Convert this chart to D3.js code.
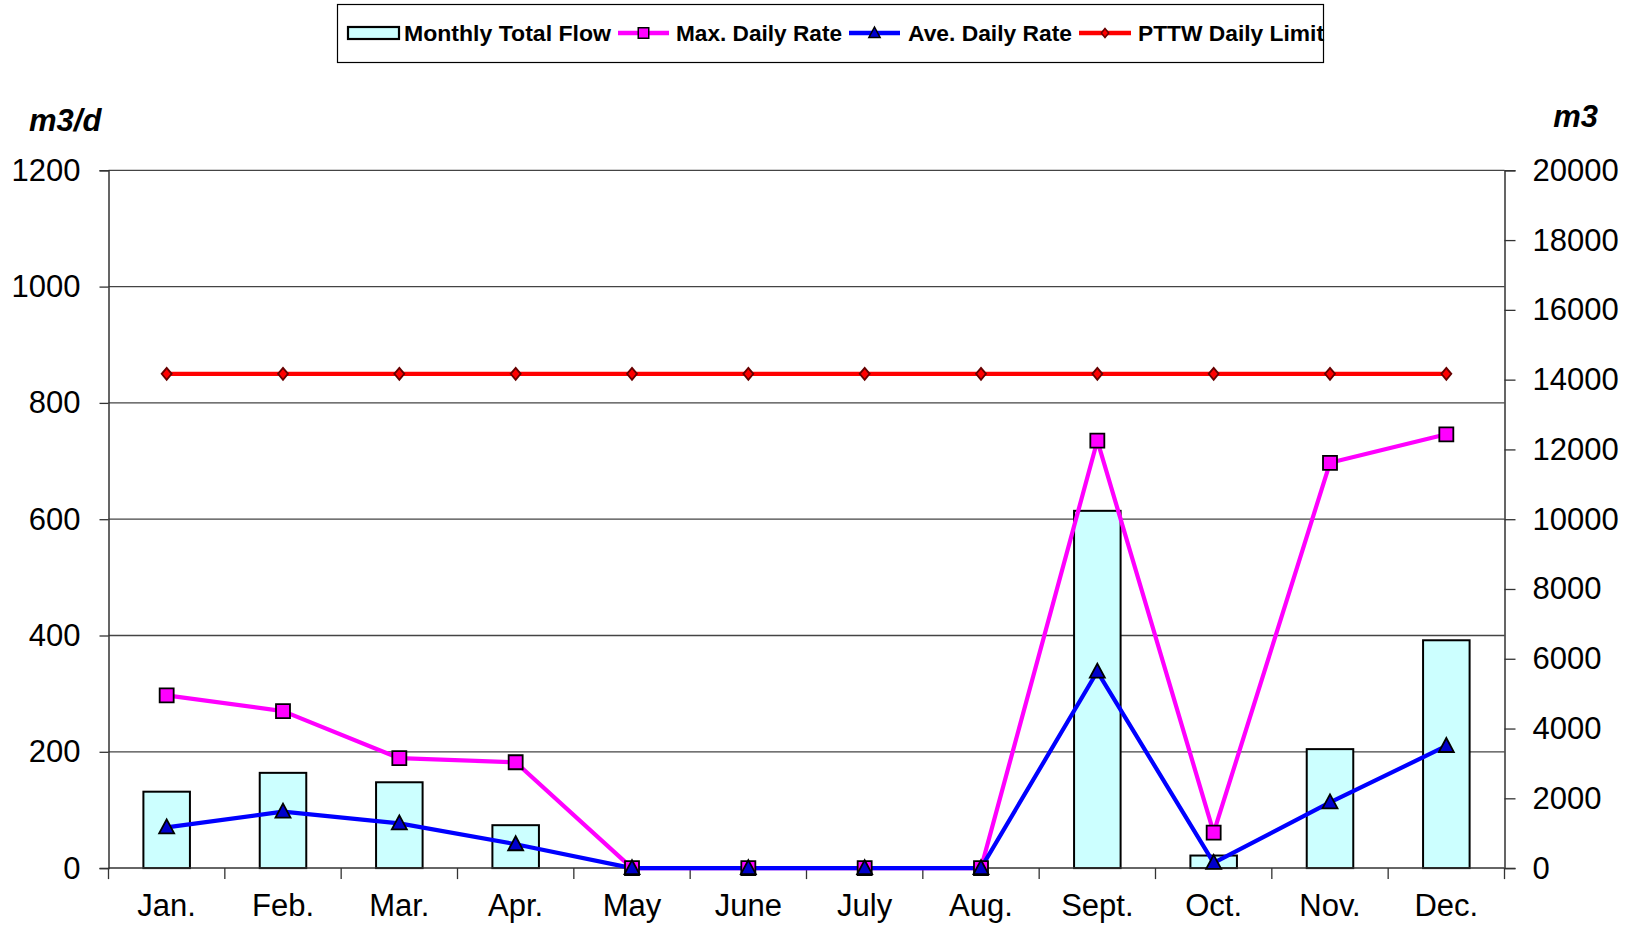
<!DOCTYPE html>
<html>
<head>
<meta charset="utf-8">
<script src="https://cdn.jsdelivr.net/npm/d3@7"></script>
<style>
  body { margin: 0; background: #fff; }
  svg { display: block; font-family: "Liberation Sans", Arial, sans-serif; }
</style>
</head>
<body>
<svg id="chart" width="1638" height="926"></svg>
<script>
"use strict";

const months = ["Jan.", "Feb.", "Mar.", "Apr.", "May", "June", "July", "Aug.", "Sept.", "Oct.", "Nov.", "Dec."];
// monthly total flow, m3 (right axis)
const totalFlow = [2190, 2730, 2460, 1230, 0, 0, 0, 0, 10240, 360, 3410, 6530];
// m3/d (left axis)
const maxDaily = [297, 270, 189, 182, 0, 0, 0, 0, 735, 61, 697, 746];
const aveDaily = [70, 97, 77, 41, 0, 0, 0, 0, 338, 9, 113, 210];
const pttwLimit = [850, 850, 850, 850, 850, 850, 850, 850, 850, 850, 850, 850];
const leftTicks = [0, 200, 400, 600, 800, 1000, 1200];
const rightTicks = [0, 2000, 4000, 6000, 8000, 10000, 12000, 14000, 16000, 18000, 20000];

const margin = { left: 108.5, right: 1638 - 1504.5, top: 170.3, bottom: 926 - 868.1 };
const width = 1638, height = 926;

const svg = d3.select("#chart");

const x = d3.scaleBand()
  .domain(months)
  .range([margin.left, width - margin.right]);

const yL = d3.scaleLinear().domain([0, 1200]).range([height - margin.bottom, margin.top]);
const yR = d3.scaleLinear().domain([0, 20000]).range([height - margin.bottom, margin.top]);

// gridlines
svg.append("g")
  .selectAll("line")
  .data(leftTicks.slice(1))
  .join("line")
  .attr("x1", margin.left)
  .attr("x2", width - margin.right)
  .attr("y1", d => yL(d))
  .attr("y2", d => yL(d))
  .attr("stroke", "#444")
  .attr("stroke-width", 1.3);

// bars
const barW = x.bandwidth() * 0.4;
svg.append("g")
  .selectAll("rect")
  .data(months.map((m, i) => ({ m, v: totalFlow[i] })).filter(d => d.v > 0))
  .join("rect")
  .attr("x", d => x(d.m) + (x.bandwidth() - barW) / 2)
  .attr("width", barW)
  .attr("y", d => yR(d.v))
  .attr("height", d => yR(0) - yR(d.v))
  .attr("fill", "#ccffff")
  .attr("stroke", "#000")
  .attr("stroke-width", 2);

// axes
const axisFont = 31;
const gL = svg.append("g")
  .attr("transform", `translate(${margin.left},0)`)
  .call(d3.axisLeft(yL).tickValues(leftTicks).tickSize(9).tickPadding(19).tickFormat(d3.format("d")));
const gR = svg.append("g")
  .attr("transform", `translate(${width - margin.right},0)`)
  .call(d3.axisRight(yR).tickValues(rightTicks).tickSize(11).tickPadding(17).tickFormat(d3.format("d")));
const gX = svg.append("g")
  .attr("transform", `translate(0,${height - margin.bottom})`)
  .call(d3.axisBottom(x).tickSize(0).tickPadding(26));

[gL, gR, gX].forEach(g => {
  g.select(".domain").attr("stroke", "#333").attr("stroke-width", 1.5);
  g.selectAll(".tick line").attr("stroke", "#333").attr("stroke-width", 1.3);
  g.selectAll("text").attr("font-size", axisFont).attr("fill", "#000")
    .attr("font-family", "Liberation Sans, Arial, sans-serif");
});
gX.select(".domain").attr("d", `M${margin.left},0H${width - margin.right}`);

// month boundary ticks
const bounds = months.map(m => x(m)).concat([width - margin.right]);
gX.append("g")
  .selectAll("line")
  .data(bounds)
  .join("line")
  .attr("x1", d => d).attr("x2", d => d)
  .attr("y1", 0).attr("y2", 11)
  .attr("stroke", "#333").attr("stroke-width", 1.3);

// axis titles
svg.append("text")
  .attr("x", 29).attr("y", 131)
  .attr("font-size", 31).attr("font-weight", "bold").attr("font-style", "italic")
  .text("m3/d");
svg.append("text")
  .attr("x", 1598).attr("y", 127)
  .attr("text-anchor", "end")
  .attr("font-size", 31).attr("font-weight", "bold").attr("font-style", "italic")
  .text("m3");

// lines
const cx = m => x(m) + x.bandwidth() / 2;
const series = [
  { name: "Max. Daily Rate", values: maxDaily, color: "#ff00ff", marker: "square" },
  { name: "Ave. Daily Rate", values: aveDaily, color: "#0000ff", marker: "triangle" },
  { name: "PTTW Daily Limit", values: pttwLimit, color: "#ff0000", marker: "diamond" }
];

const markerFill = { square: "#ff00ff", triangle: "#0000cc", diamond: "#ff0000" };
function markerPath(type) {
  if (type === "square") return "M-7,-7H7V7H-7Z";
  if (type === "triangle") return "M0,-8L7.5,6H-7.5Z";
  return "M0,-6L5,0L0,6L-5,0Z";
}

const line = d3.line().x((d, i) => cx(months[i])).y(d => yL(d));

series.forEach(s => {
  svg.append("path")
    .datum(s.values)
    .attr("d", line)
    .attr("fill", "none")
    .attr("stroke", s.color)
    .attr("stroke-width", 4.2)
    .attr("stroke-linejoin", "round");
});
series.forEach(s => {
  svg.append("g")
    .selectAll("path")
    .data(s.values)
    .join("path")
    .attr("transform", (d, i) => `translate(${cx(months[i])},${yL(d)})`)
    .attr("d", markerPath(s.marker))
    .attr("fill", markerFill[s.marker])
    .attr("stroke", s.marker === "diamond" ? "#600" : "#000")
    .attr("stroke-width", 1.8);
});

// legend
const legend = svg.append("g");
legend.append("rect")
  .attr("x", 337.5).attr("y", 4.5).attr("width", 986).attr("height", 58)
  .attr("fill", "#fff").attr("stroke", "#000").attr("stroke-width", 1.2);

const legendY = 33;
const items = [
  { label: "Monthly Total Flow", x0: 348, x1: 399, tx: 404, tw: 207, type: "bar" },
  { label: "Max. Daily Rate", x0: 618, x1: 669, tx: 676, tw: 166, type: "square", color: "#ff00ff" },
  { label: "Ave. Daily Rate", x0: 849, x1: 900, tx: 908, tw: 164, type: "triangle", color: "#0000ff" },
  { label: "PTTW Daily Limit", x0: 1079, x1: 1131, tx: 1138, tw: 186, type: "diamond", color: "#ff0000" }
];
items.forEach(it => {
  if (it.type === "bar") {
    legend.append("rect")
      .attr("x", it.x0).attr("y", legendY - 6).attr("width", it.x1 - it.x0).attr("height", 12)
      .attr("fill", "#ccffff").attr("stroke", "#000").attr("stroke-width", 2.2);
  } else {
    legend.append("line")
      .attr("x1", it.x0).attr("x2", it.x1).attr("y1", legendY).attr("y2", legendY)
      .attr("stroke", it.color).attr("stroke-width", 4.5);
    legend.append("path")
      .attr("transform", `translate(${(it.x0 + it.x1) / 2},${legendY}) scale(0.75)`)
      .attr("d", markerPath(it.type))
      .attr("fill", markerFill[it.type])
      .attr("stroke", it.type === "diamond" ? "#600" : "#000")
      .attr("stroke-width", 2);
  }
  legend.append("text")
    .attr("x", it.tx).attr("y", legendY)
    .attr("dy", "0.36em")
    .attr("font-size", 22).attr("font-weight", "bold")
    .attr("textLength", it.tw).attr("lengthAdjust", "spacingAndGlyphs")
    .text(it.label);
});
</script>
</body>
</html>
